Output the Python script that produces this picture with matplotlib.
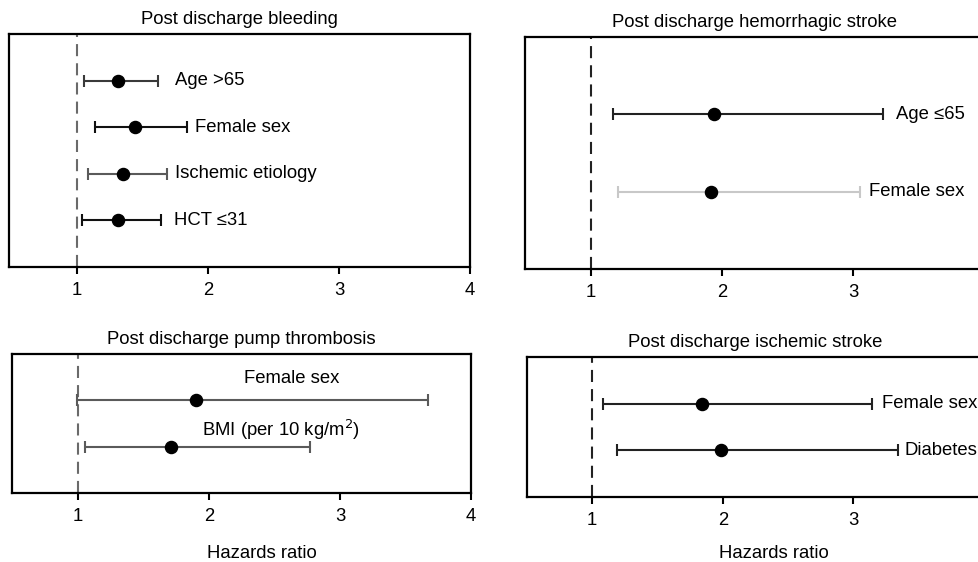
import matplotlib
matplotlib.use("Agg")
import matplotlib.pyplot as plt

plt.rcParams['font.family'] = ['Liberation Sans', 'DejaVu Sans']

# Post discharge bleeding
bleed_labels = ["Age >65", "Female sex", "Ischemic etiology", "HCT \u226431"]
bleed_hr = [1.31, 1.445, 1.35, 1.31]
bleed_lo = [1.05, 1.14, 1.08, 1.035]
bleed_hi = [1.62, 1.84, 1.685, 1.64]

# Post discharge hemorrhagic stroke
hem_labels = ["Age \u226465", "Female sex"]
hem_hr = [1.94, 1.92]
hem_lo = [1.17, 1.21]
hem_hi = [3.23, 3.05]

# Post discharge pump thrombosis
pump_labels = ["Female sex", "BMI (per 10 kg/m$^2$)"]
pump_hr = [1.90, 1.71]
pump_lo = [0.99, 1.055]
pump_hi = [3.67, 2.77]

# Post discharge ischemic stroke
isch_labels = ["Female sex", "Diabetes"]
isch_hr = [1.84, 1.99]
isch_lo = [1.08, 1.19]
isch_hi = [3.145, 3.345]

xticks = [1, 2, 3, 4]
FS = 13.3

fig = plt.figure(figsize=(9.79, 5.62), dpi=100)


def forest(rect, xlim, title, labels, hr, lo, hi, colors, ref_color):
    ax = fig.add_axes(rect)
    n = len(labels)
    rows = list(range(1, n + 1))
    ax.axvline(1, color=ref_color, lw=1.5, ls=(0, (5.8, 3.4)), zorder=1)
    for y, h, l, u, c in zip(rows, hr, lo, hi, colors):
        ax.errorbar([h], [y], xerr=[[h - l], [u - h]], fmt='none', ecolor=c,
                    elinewidth=1.5, capsize=4.5, capthick=1.5, zorder=2)
        ax.plot([h], [y], 'o', color='black', ms=8.7, zorder=3)
    ax.set_xlim(*xlim)
    ax.set_ylim(n + 1, 0)
    ax.set_yticks([])
    ax.set_xticks(xticks)
    ax.tick_params(axis='x', direction='out', length=5, width=1.5, labelsize=FS,
                   pad=6, color='black')
    for s in ax.spines.values():
        s.set_linewidth(1.6)
    ax.set_title(title, fontsize=FS, pad=7)
    return ax, rows


ax, rows = forest([0.0095, 0.5249, 0.4706, 0.4146], (0.483, 4.0),
                  "Post discharge bleeding", bleed_labels, bleed_hr, bleed_lo, bleed_hi,
                  ['#3a3a3a', '#111111', '#5a5a5a', '#111111'], '#6a6a6a')
for y, t, x in zip(rows, bleed_labels, [1.75, 1.90, 1.75, 1.74]):
    ax.text(x, y, t, fontsize=FS, va='center', ha='left')

ax, rows = forest([0.5363, 0.5214, 0.4689, 0.4128], (0.498, 4.0),
                  "Post discharge hemorrhagic stroke", hem_labels, hem_hr, hem_lo, hem_hi,
                  ['#222222', '#c8c8c8'], '#222222')
for y, t, x in zip(rows, hem_labels, [3.33, 3.125]):
    ax.text(x, y, t, fontsize=FS, va='center', ha='left')

ax, rows = forest([0.01226, 0.1228, 0.4689, 0.2473], (0.496, 4.0),
                  "Post discharge pump thrombosis", pump_labels, pump_hr, pump_lo, pump_hi,
                  ['#5a5a5a', '#5a5a5a'], '#6a6a6a')
for y, t, x, dy in zip(rows, pump_labels, [2.63, 2.55], [-0.48, -0.36]):
    ax.text(x, y + dy, t, fontsize=FS, va='center', ha='center')

ax, rows = forest([0.5383, 0.1157, 0.4668, 0.2491], (0.502, 4.0),
                  "Post discharge ischemic stroke", isch_labels, isch_hr, isch_lo, isch_hi,
                  ['#222222', '#222222'], '#222222')
for y, t, x in zip(rows, isch_labels, [3.22, 3.39]):
    ax.text(x, y, t, fontsize=FS, va='center', ha='left')

# shared x axis titles for the bottom row
fig.text(261.7 / 979, 1 - 553 / 562, "Hazards ratio", fontsize=FS, ha='center', va='center')
fig.text(774 / 979, 1 - 553 / 562, "Hazards ratio", fontsize=FS, ha='center', va='center')

fig.savefig("out.png", dpi=100)
